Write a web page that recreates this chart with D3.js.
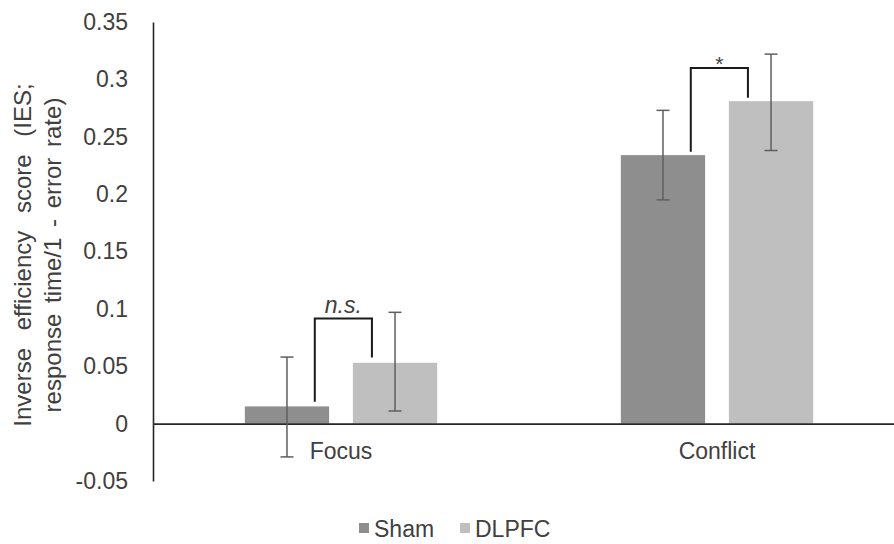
<!DOCTYPE html>
<html>
<head>
<meta charset="utf-8">
<script src="https://cdnjs.cloudflare.com/ajax/libs/d3/7.8.5/d3.min.js"></script>
<style>
    body { margin: 0; background: #fff; }
    text { font-family: "Liberation Sans", Arial, sans-serif; fill: #404040; }
</style>
</head>
<body>
<div id="vis"></div>
<script>
// Chart data
var conditions = ['Focus', 'Conflict'];
var groups = ['Sham', 'DLPFC'];
var means = [[0.015, 0.053], [0.234, 0.281]];
var errLow = [[-0.029, 0.011], [0.195, 0.238]];
var errHigh = [[0.058, 0.097], [0.273, 0.322]];
var yTicks = [-0.05, 0, 0.05, 0.1, 0.15, 0.2, 0.25, 0.3, 0.35];
// significance brackets: [leftBottom, top, rightBottom]
var sigLabels = ['n.s.', '*'];
var sigLevels = [[0.019, 0.0916, 0.0576], [0.237, 0.310, 0.284]];

var width = 894;
var height = 544;
var fontSize = 23;

var svg = d3.select('#vis')
    .append('svg')
    .attr('width', width)
    .attr('height', height);

// Scales
var xScale = d3.scaleBand()
    .domain(conditions)
    .range([153, 905]);

var xSub = d3.scaleBand()
    .domain(groups)
    .range([0, xScale.bandwidth()])
    .paddingInner(0.22)
    .paddingOuter(0.85);

var yScale = d3.scaleLinear()
    .domain([-0.05, 0.35])
    .range([481, 22]);

var colors = d3.scaleOrdinal()
    .domain(groups)
    .range(['#8e8e8e', '#bfbfbf']);

// Bars
var rows = [];
conditions.forEach(function(c, i) {
    groups.forEach(function(g, j) {
        rows.push({cond: c, group: g, mean: means[i][j], lo: errLow[i][j], hi: errHigh[i][j]});
    });
});

svg.selectAll('rect.bar')
    .data(rows)
    .enter().append('rect')
    .attr('class', 'bar')
    .attr('x', function(d) { return xScale(d.cond) + xSub(d.group); })
    .attr('y', function(d) { return yScale(Math.max(0, d.mean)); })
    .attr('width', xSub.bandwidth())
    .attr('height', function(d) { return Math.abs(yScale(d.mean) - yScale(0)); })
    .attr('fill', function(d) { return colors(d.group); });

// Y axis
var yAxis = d3.axisLeft(yScale)
    .tickValues(yTicks)
    .tickSize(0)
    .tickPadding(25)
    .tickFormat(function(d) { return String(+d.toFixed(2)); });

var yG = svg.append('g')
    .attr('transform', 'translate(153,0)')
    .call(yAxis);
yG.select('.domain').attr('stroke', '#262626').attr('stroke-width', 1.6);
yG.selectAll('text')
    .style('font-size', fontSize + 'px')
    .attr('fill', '#404040');

// Zero line with category labels
var xG = svg.append('g')
    .attr('transform', 'translate(0,' + yScale(0) + ')')
    .call(d3.axisBottom(xScale).tickSize(0).tickPadding(19));
xG.select('.domain').attr('stroke', '#262626').attr('stroke-width', 1.8);
xG.selectAll('text')
    .style('font-size', fontSize + 'px')
    .attr('fill', '#404040');

// Error bars
var cap = 6.5;
var errG = svg.append('g').attr('stroke', '#5f5f5f').attr('stroke-width', 1.5);
rows.forEach(function(d) {
    var cx = xScale(d.cond) + xSub(d.group) + xSub.bandwidth() / 2;
    errG.append('line')
        .attr('x1', cx).attr('x2', cx)
        .attr('y1', yScale(d.lo)).attr('y2', yScale(d.hi));
    [d.lo, d.hi].forEach(function(v) {
        errG.append('line')
            .attr('x1', cx - cap).attr('x2', cx + cap)
            .attr('y1', yScale(v)).attr('y2', yScale(v));
    });
});

// Significance brackets
conditions.forEach(function(c, i) {
    var x1 = xScale(c) + xSub('Sham') + xSub.bandwidth() * 0.83;
    var x2 = xScale(c) + xSub('DLPFC') + xSub.bandwidth() * 0.226;
    var lv = sigLevels[i];
    svg.append('path')
        .attr('d', 'M' + x1 + ',' + yScale(lv[0]) +
            'V' + yScale(lv[1]) + 'H' + x2 + 'V' + yScale(lv[2]))
        .attr('fill', 'none')
        .attr('stroke', '#1a1a1a')
        .attr('stroke-width', 2);
    svg.append('text')
        .attr('x', (x1 + x2) / 2)
        .attr('y', yScale(lv[1]) - (i === 0 ? 6 : -3))
        .attr('text-anchor', 'middle')
        .style('font-size', i === 0 ? '23px' : '21px')
        .style('font-style', i === 0 ? 'italic' : 'normal')
        .attr('fill', '#404040')
        .text(sigLabels[i]);
});

// Y axis title
var yTitle = svg.append('text')
    .attr('transform', 'translate(31,255) rotate(-90)')
    .attr('text-anchor', 'middle')
    .style('font-size', '24px')
    .attr('fill', '#404040');
yTitle.append('tspan').attr('x', 0).attr('dy', 0)
    .style('word-spacing', '11px')
    .text('Inverse efficiency score (IES;');
yTitle.append('tspan').attr('x', 0).attr('dy', 30)
    .style('word-spacing', '4px')
    .text('response time/1 - error rate)');

// Legend
var legend = svg.append('g');
var legendX = [359, 460];
groups.forEach(function(g, i) {
    legend.append('rect')
        .attr('x', legendX[i]).attr('y', 523)
        .attr('width', 10).attr('height', 10)
        .attr('fill', colors(g));
    legend.append('text')
        .attr('x', legendX[i] + 15).attr('y', 537)
        .style('font-size', fontSize + 'px')
        .attr('fill', '#404040')
        .text(g);
});
</script>
</body>
</html>
